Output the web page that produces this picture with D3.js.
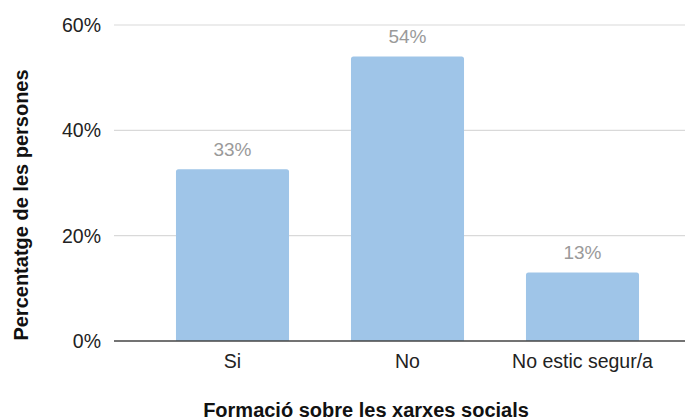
<!DOCTYPE html>
<html><head><meta charset="utf-8">
<script src="https://cdn.jsdelivr.net/npm/d3@7"></script>
<style>body{margin:0;background:#fff}svg{display:block}text{font-family:"Liberation Sans",Arial,Helvetica,sans-serif}</style>
</head><body>
<svg id="c" width="689" height="420"></svg>
<script>
const categories = ["Si", "No", "No estic segur/a"];
const values = [32.6, 54.0, 13.0];
const valueLabels = ["33%", "54%", "13%"];
const yTicks = [0, 20, 40, 60];
const xTitle = "Formació sobre les xarxes socials";
const yTitle = "Percentatge de les persones";

const svg = d3.select("#c");
const x = d3.scaleBand().domain(categories).range([145, 670]).paddingInner(0.354).paddingOuter(0.177);
const y = d3.scaleLinear().domain([0, 60]).range([341, 25]);
const gridX0 = 114, gridX1 = 685;

svg.append("g").selectAll("line").data(yTicks.filter(d => d > 0)).join("line")
  .attr("x1", gridX0).attr("x2", gridX1)
  .attr("y1", d => y(d)).attr("y2", d => y(d))
  .attr("stroke", "#d9d9d9").attr("stroke-width", 1.2);

svg.append("g").selectAll("text").data(yTicks).join("text")
  .attr("x", 101).attr("y", d => y(d) + 7)
  .attr("text-anchor", "end").attr("font-size", 19.5).attr("fill", "#222")
  .text(d => d + "%");

const r = 2.5;
svg.append("g").selectAll("path").data(values).join("path")
  .attr("fill", "#9fc5e8")
  .attr("d", (d, i) => {
    const x0 = x(categories[i]), w = x.bandwidth(), y0 = y(d), yb = y(0);
    return `M${x0},${yb}V${y0 + r}Q${x0},${y0} ${x0 + r},${y0}H${x0 + w - r}Q${x0 + w},${y0} ${x0 + w},${y0 + r}V${yb}Z`;
  });

svg.append("line").attr("x1", gridX0).attr("x2", gridX1)
  .attr("y1", y(0)).attr("y2", y(0)).attr("stroke", "#444").attr("stroke-width", 1.3);

svg.append("g").selectAll("text").data(values).join("text")
  .attr("x", (d, i) => x(categories[i]) + x.bandwidth() / 2)
  .attr("y", d => y(d) - 13.5)
  .attr("text-anchor", "middle").attr("font-size", 19).attr("fill", "#9a9a9a")
  .text((d, i) => valueLabels[i]);

svg.append("g").selectAll("text").data(categories).join("text")
  .attr("x", d => x(d) + x.bandwidth() / 2).attr("y", 368)
  .attr("text-anchor", "middle").attr("font-size", 19.5).attr("fill", "#222")
  .text(d => d);

svg.append("text").attr("x", 366).attr("y", 417)
  .attr("text-anchor", "middle").attr("font-size", 20).attr("font-weight", "bold").attr("fill", "#111")
  .text(xTitle);

svg.append("text").attr("transform", "translate(28,205) rotate(-90)")
  .attr("text-anchor", "middle").attr("font-size", 20).attr("font-weight", "bold").attr("fill", "#111")
  .text(yTitle);
</script>
</body></html>
